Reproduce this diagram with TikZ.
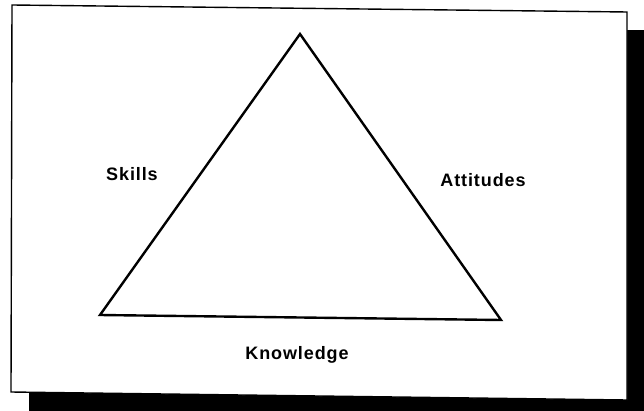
\documentclass[tikz,border=0pt]{standalone}
\usepackage{fontspec}
\setmainfont{Liberation Sans}[LetterSpace=5]
\begin{document}
\begin{tikzpicture}[x=1pt,y=-1pt,
  lbl/.style={font=\fontsize{18}{21}\selectfont\bfseries, inner sep=0pt},
  edge/.style={line width=2.4pt, line join=miter}]
\useasboundingbox (0,0) rectangle (644,411);
\fill[white] (0,0) rectangle (644,411);
% shadow
\fill[black] (29,30) -- (644,30) -- (644,411) -- (29,411) -- cycle;
% card
\filldraw[fill=white, draw=black, line width=1.4pt] (12,5) -- (627,12) -- (627,400) -- (11,392) -- cycle;
% triangle
\coordinate (top) at (300,34);
\coordinate (bl) at (100,315);
\coordinate (br) at (501,320);
\draw[edge] (top) -- (bl) -- (br) -- cycle;
\node[lbl] (skills) at (132,174) {Skills};
\node[lbl] (attitudes) at (483,180) {Attitudes};
\node[lbl] (knowledge) at (297,355) {Knowledge};
\end{tikzpicture}
\end{document}
